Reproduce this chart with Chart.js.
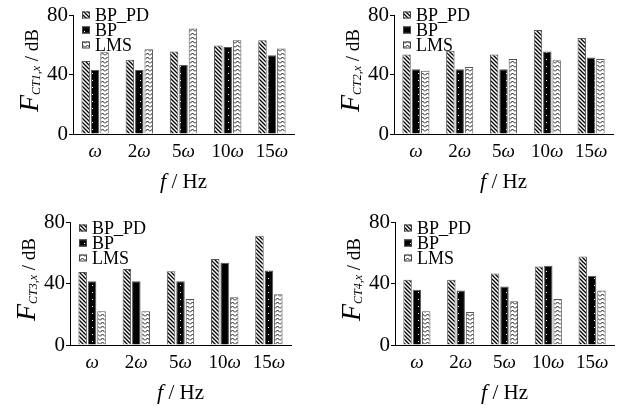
<!DOCTYPE html>
<html>
<head>
<meta charset="utf-8">
<script src="https://cdn.jsdelivr.net/npm/chart.js@4.4.0/dist/chart.umd.min.js"></script>
<style>
  html, body { margin: 0; padding: 0; background: #fff; }
  #wrap { position: relative; width: 621px; height: 409px; overflow: hidden; }
  canvas { position: absolute; }
</style>
</head>
<body>
<div id="wrap">
  <canvas id="ct1" width="310" height="205" style="left:0;top:0"></canvas>
  <canvas id="ct2" width="311" height="205" style="left:310px;top:0"></canvas>
  <canvas id="ct3" width="310" height="204" style="left:0;top:205px"></canvas>
  <canvas id="ct4" width="311" height="204" style="left:310px;top:205px"></canvas>
</div>
<script>
// ---- data ----
const freqLabels = ["ω", "2ω", "5ω", "10ω", "15ω"];
const seriesNames = ["BP_PD", "BP¯", "LMS"];

const ct1BPPD = [49, 50, 55.5, 59.5, 63];
const ct1BP   = [43, 43, 46.5, 58.5, 53];
const ct1LMS  = [55, 57, 71, 63, 57.5];

const ct2BPPD = [53.5, 56, 53.5, 70, 64.5];
const ct2BP   = [43.5, 43.5, 43.5, 55.5, 51.5];
const ct2LMS  = [42.5, 45, 50.5, 49.5, 50.5];

const ct3BPPD = [47.5, 49.5, 48, 56, 71];
const ct3BP   = [41.5, 41.5, 41.5, 53.5, 48.5];
const ct3LMS  = [22, 22, 30, 31, 33];

const ct4BPPD = [42.5, 42.5, 46.5, 51, 57.5];
const ct4BP   = [36, 35.5, 38, 51.5, 45];
const ct4LMS  = [22, 21.5, 28.5, 30, 35.5];

const yTicks = [0, 40, 80];

const FONT = '"Liberation Serif", "Times New Roman", serif';

/* ---------------------------------------------------
    FILL PATTERNS
---------------------------------------------------- */
function makePattern(kind) {
  const c = document.createElement("canvas");
  const g = c.getContext("2d");
  if (kind === "hatch") {
    c.width = 4; c.height = 4;
    g.fillStyle = "#fff"; g.fillRect(0, 0, 4, 4);
    g.strokeStyle = "#000"; g.lineWidth = 1.3;
    g.beginPath();
    g.moveTo(-1, -1); g.lineTo(5, 5);
    g.moveTo(3, -1); g.lineTo(5, 1);
    g.moveTo(-1, 3); g.lineTo(1, 5);
    g.stroke();
  } else if (kind === "dots") {
    c.width = 8; c.height = 7;
    g.fillStyle = "#000"; g.fillRect(0, 0, 8, 7);
    g.fillStyle = "#fff"; g.fillRect(4, 3, 1, 1);
  } else {
    c.width = 5; c.height = 4;
    g.fillStyle = "#fff"; g.fillRect(0, 0, 5, 4);
    g.strokeStyle = "#111"; g.lineWidth = 1;
    g.beginPath();
    g.moveTo(0, 3.5); g.lineTo(2.5, 1); g.lineTo(5, 3.5);
    g.stroke();
  }
  return g.createPattern(c, "repeat");
}

const hatchFill = makePattern("hatch");
const dotFill = makePattern("dots");
const zigFill = makePattern("zig");

/* ---------------------------------------------------
    TEXT: ticks, axis titles, legend
---------------------------------------------------- */
function drawRuns(ctx, runs, cx, y) {
  let total = 0;
  runs.forEach(r => { ctx.font = r.font; r.w = ctx.measureText(r.text).width; total += r.w; });
  let sx = cx - total / 2;
  ctx.textAlign = "left";
  runs.forEach(r => {
    ctx.font = r.font;
    ctx.fillText(r.text, sx, y + (r.dy || 0));
    sx += r.w;
  });
}

const panelText = {
  id: "panelText",
  afterDraw(chart, args, opts) {
    const { ctx, chartArea: a, scales: { x } } = chart;
    ctx.save();
    ctx.fillStyle = "#000";
    ctx.textBaseline = "alphabetic";

    // category labels, ω in italics
    chart.data.labels.forEach((lab, i) => {
      drawRuns(ctx, [
        { font: `19px ${FONT}`, text: lab.slice(0, -1) },
        { font: `italic 19px ${FONT}`, text: "ω" }
      ], x.getPixelForValue(i), a.bottom + 23);
    });

    // x title
    drawRuns(ctx, [
      { font: `italic 22px ${FONT}`, text: "f" },
      { font: `21px ${FONT}`, text: " / Hz" }
    ], (a.left + a.right) / 2, a.bottom + 54);

    // y title
    ctx.save();
    ctx.translate(a.left - 35, (a.top + a.bottom) / 2 - 4);
    ctx.rotate(-Math.PI / 2);
    drawRuns(ctx, [
      { font: `italic 28px ${FONT}`, text: "F" },
      { font: `italic 12px ${FONT}`, text: opts.sub, dy: 2 },
      { font: `19px ${FONT}`, text: " / dB" }
    ], 0, 0);
    ctx.restore();

    // legend
    ctx.textBaseline = "middle";
    ctx.textAlign = "left";
    ctx.font = `18px ${FONT}`;
    chart.data.datasets.forEach((ds, i) => {
      const y = a.top + opts.legendTop + i * 15;
      ctx.fillStyle = ds.backgroundColor;
      ctx.fillRect(a.left + 9, y - 3.5, 8, 7);
      ctx.strokeStyle = "#444";
      ctx.lineWidth = 1;
      ctx.strokeRect(a.left + 9.5, y - 3, 7, 6);
      ctx.fillStyle = "#000";
      ctx.fillText(ds.label, a.left + 22, y + 1);
    });
    ctx.restore();
  }
};

/* ---------------------------------------------------
    PANELS
---------------------------------------------------- */
function makePanel(id, bpPD, bp, lms, sub, box) {
  const fills = [hatchFill, dotFill, zigFill];
  return new Chart(document.getElementById(id), {
    type: "bar",
    data: {
      labels: freqLabels,
      datasets: [bpPD, bp, lms].map((d, i) => ({
        label: seriesNames[i],
        data: d,
        backgroundColor: fills[i],
        borderColor: "#555",
        borderWidth: 1,
        categoryPercentage: 0.64,
        barPercentage: 0.9
      }))
    },
    options: {
      responsive: false,
      animation: false,
      layout: { padding: { left: 0, top: box.top, right: box.right, bottom: 0 } },
      plugins: {
        legend: { display: false },
        tooltip: { enabled: false },
        panelText: { sub, legendTop: box.legendTop }
      },
      scales: {
        x: {
          grid: { display: false },
          border: { display: true, color: "#000", width: 1 },
          ticks: { display: false },
          afterFit: s => { s.height = box.bottom; }
        },
        y: {
          min: 0,
          max: 80,
          afterBuildTicks: s => { s.ticks = yTicks.map(v => ({ value: v })); },
          ticks: { color: "#000", padding: 1, font: { family: FONT, size: 21 } },
          grid: { drawOnChartArea: false, drawTicks: true, tickLength: 4, color: "#000" },
          border: { display: true, color: "#000", width: 1 },
          afterFit: s => { s.width = box.left; }
        }
      }
    },
    plugins: [panelText]
  });
}

makePanel("ct1", ct1BPPD, ct1BP, ct1LMS, "CT1,x", { left: 73, top: 15, right: 16, bottom: 71, legendTop: 0 });
makePanel("ct2", ct2BPPD, ct2BP, ct2LMS, "CT2,x", { left: 84, top: 15, right: 8, bottom: 71, legendTop: 0 });
makePanel("ct3", ct3BPPD, ct3BP, ct3LMS, "CT3,x", { left: 70, top: 17, right: 19, bottom: 64, legendTop: 6 });
makePanel("ct4", ct4BPPD, ct4BP, ct4LMS, "CT4,x", { left: 85, top: 17, right: 7, bottom: 64, legendTop: 6 });
</script>
</body>
</html>
